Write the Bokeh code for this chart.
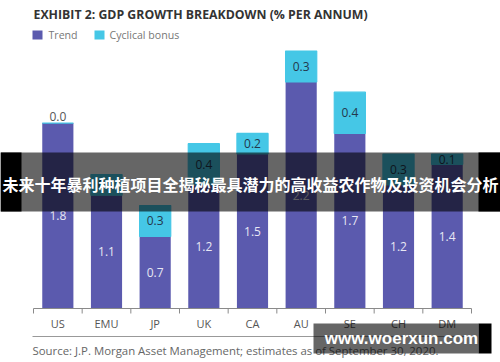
from bokeh.plotting import figure
from bokeh.models import Range1d, ColumnDataSource
from bokeh.embed import file_html
from bokeh.resources import INLINE
from bokeh.core.properties import value

# ---- data ----
categories = ["US", "EMU", "JP", "UK", "CA", "AU", "SE", "CH", "DM"]
trend = [1.8, 1.1, 0.7, 1.2, 1.5, 2.2, 1.7, 1.2, 1.4]
cyclical = [0.0, 0.2, 0.3, 0.4, 0.2, 0.3, 0.4, 0.3, 0.1]
series_names = ["Trend", "Cyclical bonus"]
title_text = "EXHIBIT 2: GDP GROWTH BREAKDOWN (% PER ANNUM)"
source_text = "Source: J.P. Morgan Asset Management; estimates as of September 30, 2020."
banner_text = "未来十年暴利种植项目全揭秘最具潜力的高收益农作物及投资机会分析"
watermark_text = "www.woerxun.com"

# ---- style / layout (picture pixels) ----
PURPLE = "#5b5aae"
CYAN = "#45c7e6"
FONT = value("Open Sans")
W, H = 500, 362
PAGE = 0
axis_left, axis_right = 33, 471
baseline = 308
unit_px = 103
n = len(categories)
band = (axis_right - axis_left) / n

x_start = -(axis_left - PAGE) / band
x_end = (PAGE + W - axis_left) / band
y_start = -(PAGE + H - baseline) / unit_px
y_end = (baseline - PAGE) / unit_px

p = figure(width=W, height=H, x_range=Range1d(x_start, x_end),
           y_range=Range1d(y_start, y_end), output_backend="svg",
           toolbar_location=None, min_border=0, outline_line_color=None,
           x_axis_location=None, y_axis_location=None,
           background_fill_color="white", border_fill_color="white")
p.grid.visible = False
p.extra_x_ranges = {"px": Range1d(PAGE, PAGE + W)}
p.extra_y_ranges = {"px": Range1d(PAGE + H, PAGE)}
PX = dict(x_range_name="px", y_range_name="px")

xs = [i + 0.5 for i in range(n)]
tops = [t + c for t, c in zip(trend, cyclical)]
src = ColumnDataSource(dict(x=xs, cat=categories, trend=trend, cyc=cyclical, top=tops,
                            tmid=[t / 2 for t in trend],
                            tlab=[f"{v:.1f}" for v in trend]))

bw = 0.64
p.vbar(x="x", width=bw, bottom=0, top="trend", source=src,
       fill_color=PURPLE, line_color=None)
p.vbar(x="x", width=bw, bottom="trend", top="top", source=src,
       fill_color=CYAN, line_color=CYAN, line_width=1.2)

# value labels
p.text(x="x", y="tmid", text="tlab", source=src, text_font=FONT,
       text_font_size="12px", text_color="#e8e8f4",
       text_align="center", text_baseline="middle")
in_x, in_y, in_t, out_x, out_y, out_t = [], [], [], [], [], []
for x, t, c in zip(xs, trend, cyclical):
    if c < 0.05:
        out_x.append(x); out_y.append(t + c); out_t.append(f"{c:.1f}")
    else:
        in_x.append(x); in_y.append(t + c / 2); in_t.append(f"{c:.1f}")
p.text(x=in_x, y=in_y, text=in_t, text_font=FONT, text_font_size="12px",
       text_color="#24384c", text_align="center", text_baseline="middle")
p.text(x=out_x, y=out_y, text=out_t, text_font=FONT, text_font_size="12px",
       text_color="#555555", text_align="center", text_baseline="bottom",
       y_offset=-2)

# x axis (baseline, boundary ticks, category labels)
p.segment(x0=0, x1=n, y0=baseline, y1=baseline, line_color="#8a8a8a",
          line_width=1, y_range_name="px")
p.segment(x0=list(range(n + 1)), x1=list(range(n + 1)), y0=baseline,
          y1=baseline + 5, line_color="#8a8a8a", line_width=1, y_range_name="px")
p.text(x=xs, y=[323] * n, text=categories, text_font=FONT,
       text_font_size="11px", text_color="#555555", text_align="center",
       text_baseline="middle", y_range_name="px")

# separator and source
p.segment(x0=32, x1=axis_right, y0=336, y1=336, line_color="#999999",
          line_width=1, **PX)
p.text(x=[32], y=[350], text=[source_text], text_font=FONT,
       text_font_size="11.4px", text_color="#666666", text_align="left",
       text_baseline="middle", **PX)

# title and legend
p.text(x=[33], y=[14], text=[title_text], text_font=FONT,
       text_font_size="12.3px", text_font_style="bold", text_color="#333333",
       text_align="left", text_baseline="middle", **PX)
p.quad(left=[32, 94], right=[42, 104], top=[30, 30], bottom=[39, 39],
       fill_color=[PURPLE, CYAN], line_color=None, **PX)
p.text(x=[48, 109], y=[34.5, 34.5], text=series_names, text_font=FONT,
       text_font_size="10.6px", text_color="#777777", text_align="left",
       text_baseline="middle", **PX)

# banner overlay
p.quad(left=[PAGE], right=[PAGE + W], top=[152], bottom=[211],
       fill_color="black", fill_alpha=0.6, line_color=None, **PX)
p.quad(left=[PAGE, 478], right=[21, PAGE + W], top=[152, 152], bottom=[211, 211],
       fill_color="black", line_color=None, **PX)
p.text(x=[250], y=[183], text=[banner_text], text_font=value("Noto Sans CJK SC"),
       text_font_size="16px", text_font_style="bold", text_color="white",
       text_align="center", text_baseline="middle", **PX)

# watermark
p.quad(left=[313], right=[478], top=[323], bottom=[353],
       fill_color="black", fill_alpha=0.6, line_color=None, **PX)
p.quad(left=[478], right=[491], top=[323], bottom=[353],
       fill_color="black", line_color=None, **PX)
p.text(x=[401], y=[338], text=[watermark_text], text_font=value("Liberation Sans"),
       text_font_size="17px", text_font_style="bold", text_color="white",
       text_align="center", text_baseline="middle", **PX)

open("out.html", "w").write(file_html(p, INLINE))
